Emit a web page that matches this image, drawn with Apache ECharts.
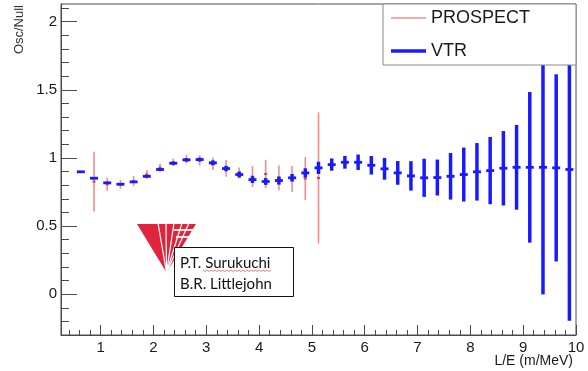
<!DOCTYPE html>
<html>
<head>
<meta charset="utf-8">
<script src="https://cdn.jsdelivr.net/npm/echarts@6/dist/echarts.min.js"></script>
<style>
html,body{margin:0;padding:0;background:#fff;}
#c{width:588px;height:371px;}
</style>
</head>
<body>
<div id="c"></div>
<script>
// ---- data ----
const vtrX = [0.625,0.875,1.125,1.375,1.625,1.875,2.125,2.375,2.625,2.875,3.125,3.375,3.625,3.875,4.125,4.375,4.625,4.875,5.125,5.375,5.625,5.875,6.125,6.375,6.625,6.875,7.125,7.375,7.625,7.875,8.125,8.375,8.625,8.875,9.125,9.375,9.625,9.875];
const vtrY = [0.898,0.851,0.817,0.807,0.824,0.865,0.915,0.961,0.986,0.988,0.964,0.922,0.878,0.841,0.827,0.834,0.854,0.890,0.927,0.951,0.968,0.968,0.946,0.920,0.890,0.868,0.854,0.856,0.865,0.878,0.898,0.907,0.924,0.931,0.931,0.931,0.927,0.915];
const vtrErr = [0.005,0.008,0.008,0.008,0.008,0.010,0.010,0.012,0.013,0.014,0.018,0.020,0.022,0.025,0.025,0.030,0.028,0.034,0.045,0.045,0.047,0.057,0.068,0.080,0.087,0.108,0.140,0.132,0.171,0.198,0.211,0.247,0.273,0.311,0.553,0.933,0.687,1.110];

const prospectX = [0.875,1.125,1.375,1.625,1.875,2.125,2.375,2.625,2.875,3.125,3.375,3.625,3.875,4.125,4.375,4.625,4.875,5.125];
const prospectY = [0.826,0.806,0.806,0.830,0.879,0.928,0.967,0.992,0.982,0.956,0.923,0.890,0.863,0.882,0.853,0.845,0.848,0.853];
const prospectErr = [0.220,0.049,0.032,0.037,0.032,0.029,0.027,0.032,0.037,0.045,0.061,0.040,0.077,0.104,0.092,0.095,0.158,0.482];

const xMajorTicks = [1,2,3,4,5,6,7,8,9,10];
const yMajorTicks = [0,0.5,1,1.5,2];
const X_MIN = 0.25, X_MAX = 10, Y_MIN = -0.3, Y_MAX = 2.13;

const xMinorTicks = [];
for (let i = 2; i <= 50; i++) { const v = Math.round(i*20)/100; if (v > X_MIN && v < X_MAX && Math.abs(v - Math.round(v)) > 1e-6) xMinorTicks.push(v); }
const yMinorTicks = [];
for (let i = -2; i <= 21; i++) { const v = Math.round(i*10)/100; if (Math.abs(v*2 - Math.round(v*2)) > 1e-6) yMinorTicks.push(v); }

const vtrData = vtrX.map((x,i)=>[x, vtrY[i], vtrErr[i]]);
const prospectData = prospectX.map((x,i)=>[x, prospectY[i], prospectErr[i]]);

function clampY(v){ return Math.max(Y_MIN, Math.min(Y_MAX, v)); }

function renderVTR(params, api){
  const x = api.value(0), y = api.value(1), e = api.value(2);
  const c = api.coord([x, y]);
  const hi = api.coord([x, clampY(y + e)]);
  const lo = api.coord([x, clampY(y - e)]);
  const col = api.visual('color');
  return {type:'group', children:[
    {type:'rect', shape:{x:c[0]-1.75, y:hi[1], width:3.5, height:lo[1]-hi[1]}, style:{fill:col}},
    {type:'rect', shape:{x:c[0]-4, y:c[1]-1.4, width:8, height:2.8}, style:{fill:col}}
  ]};
}
function renderProspect(params, api){
  const x = api.value(0), y = api.value(1), e = api.value(2);
  const c = api.coord([x, y]);
  const hi = api.coord([x, clampY(y + e)]);
  const lo = api.coord([x, clampY(y - e)]);
  return {type:'group', children:[
    {type:'line', shape:{x1:c[0], y1:hi[1], x2:c[0], y2:lo[1]}, style:{stroke:'rgba(242,100,100,0.75)', lineWidth:1.6}},
    {type:'rect', shape:{x:c[0]-1.5, y:c[1]-1, width:3, height:2}, style:{fill:'#c84646'}}
  ]};
}

const axisCol = '#4a4a4a';
const labelFont = {fontFamily:'Liberation Sans, Arial, sans-serif', fontSize:15, color:'#1a1a1a'};

// Logo geometry
const apex = [166.5, 272.5];
const logoLines = [158,166,174,182,189].map(tx => ({
  type:'line', shape:{x1:apex[0], y1:apex[1], x2:tx, y2:223}, style:{stroke:'#fff', lineWidth:1.2}, z:31
}));
const logoCross = [230, 237].map(ty => ({
  type:'line', shape:{x1:172 + (ty-224)*0.3, y1:ty, x2:198, y2:ty}, style:{stroke:'#fff', lineWidth:1.8}, z:32
}));
const wavy = [];
for (let xx = 203; xx <= 271; xx += 2) wavy.push([xx, 270 + ((xx-203)/2 % 2 === 0 ? 0 : 1.5)]);

const chart = echarts.init(document.getElementById('c'), null, {renderer:'canvas'});
chart.setOption({
  animation:false,
  backgroundColor:'#fff',
  grid:{left:61, top:4, right:12, bottom:36, show:true, borderColor:axisCol, borderWidth:1, backgroundColor:'transparent'},
  xAxis:[
    {type:'value', min:X_MIN, max:X_MAX, position:'bottom',
     axisLine:{show:true, onZero:false, lineStyle:{color:axisCol, width:1}},
     axisTick:{show:true, inside:true, length:10, customValues:xMajorTicks, lineStyle:{color:axisCol}},
     axisLabel:{show:true, customValues:xMajorTicks, margin:5, ...labelFont},
     splitLine:{show:false}},
    {type:'value', min:X_MIN, max:X_MAX, position:'bottom',
     axisLine:{show:false, onZero:false},
     axisTick:{show:true, inside:true, length:5, customValues:xMinorTicks, lineStyle:{color:axisCol}},
     axisLabel:{show:false}, splitLine:{show:false}}
  ],
  yAxis:[
    {type:'value', min:Y_MIN, max:Y_MAX, position:'left',
     axisLine:{show:true, onZero:false, lineStyle:{color:axisCol, width:1}},
     axisTick:{show:true, inside:true, length:16, customValues:yMajorTicks, lineStyle:{color:axisCol}},
     axisLabel:{show:true, customValues:yMajorTicks, margin:4, ...labelFont},
     splitLine:{show:false}},
    {type:'value', min:Y_MIN, max:Y_MAX, position:'left',
     axisLine:{show:false, onZero:false},
     axisTick:{show:true, inside:true, length:8, customValues:yMinorTicks, lineStyle:{color:axisCol}},
     axisLabel:{show:false}, splitLine:{show:false}}
  ],
  legend:[
    {data:['PROSPECT'], left:391, top:9, padding:0, icon:'rect', itemWidth:35, itemHeight:1.6, z:50,
     textStyle:{fontFamily:'Liberation Sans, Arial, sans-serif', fontSize:18, color:'#1a1a1a'},
     itemStyle:{color:'rgba(242,100,100,0.75)'}},
    {data:['VTR'], left:391, top:42, padding:0, icon:'rect', itemWidth:35, itemHeight:3.5, z:50,
     textStyle:{fontFamily:'Liberation Sans, Arial, sans-serif', fontSize:18, color:'#1a1a1a'}}
  ],
  series:[
    {name:'PROSPECT', type:'custom', xAxisIndex:0, yAxisIndex:0, renderItem:renderProspect, data:prospectData,
     itemStyle:{color:'#f26464'}, encode:{x:0, y:1}, z:2},
    {name:'VTR', type:'custom', xAxisIndex:0, yAxisIndex:0, renderItem:renderVTR, data:vtrData,
     itemStyle:{color:'#1a1aff'}, encode:{x:0, y:1}, z:3}
  ],
  graphic:[
    {type:'rect', shape:{x:383, y:4, width:193, height:61}, style:{fill:'#fff', stroke:'#8a8a8a', lineWidth:1}, z:40},
    {type:'text', left:13, top:5, rotation:Math.PI/2, style:{text:'Osc/Null', font:'13px "Liberation Sans", Arial, sans-serif', fill:'#333'}, z:40},
    {type:'text', style:{x:573, y:361, text:'L/E (m/MeV)', font:'14px "Liberation Sans", Arial, sans-serif', fill:'#1a1a1a', textAlign:'right', textVerticalAlign:'middle'}, z:40},
    {type:'polygon', shape:{points:[[137,224],[196,224],apex]}, style:{fill:'#e0243c'}, z:30},
    ...logoLines,
    ...logoCross,
    {type:'rect', shape:{x:174.5, y:247.5, width:119, height:49}, style:{fill:'#fff', stroke:'#111', lineWidth:1}, z:35},
    {type:'text', style:{x:180, y:263.5, text:'P.T. Surukuchi', font:'15px Lato, "Open Sans", sans-serif', fill:'#111', textVerticalAlign:'middle'}, z:36},
    {type:'text', style:{x:180, y:284, text:'B.R. Littlejohn', font:'15px Lato, "Open Sans", sans-serif', fill:'#111', textVerticalAlign:'middle'}, z:36},
    {type:'polyline', shape:{points:wavy}, style:{stroke:'#e06060', lineWidth:0.8, fill:null}, z:36}
  ]
});
</script>
</body>
</html>
